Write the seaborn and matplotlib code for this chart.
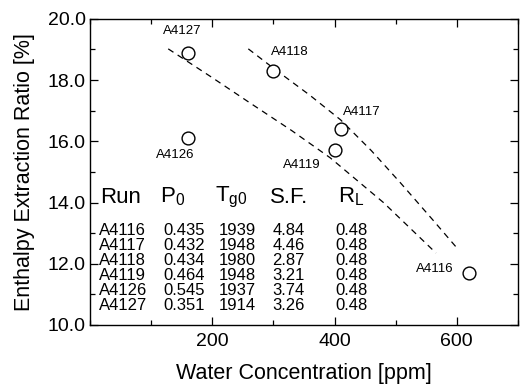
import matplotlib
matplotlib.use("Agg")
import matplotlib.pyplot as plt
from matplotlib.ticker import MultipleLocator, FormatStrFormatter
import seaborn as sns
import pandas as pd

# Measured runs
runs = ["A4116", "A4117", "A4118", "A4119", "A4126", "A4127"]
water_ppm = [620, 410, 300, 400, 160, 160]
extraction = [11.7, 16.4, 18.3, 15.7, 16.1, 18.9]

# Run conditions listed in the table
p0 = ["0.435", "0.432", "0.434", "0.464", "0.545", "0.351"]
tg0 = ["1939", "1948", "1980", "1948", "1937", "1914"]
sf = ["4.84", "4.46", "2.87", "3.21", "3.74", "3.26"]
rl = ["0.48", "0.48", "0.48", "0.48", "0.48", "0.48"]
headers = ["Run", "P$_\\mathrm{0}$", "T$_\\mathrm{g0}$", "S.F.", "R$_\\mathrm{L}$"]

# Trend curves
trend_low_x = [128, 200, 262, 330, 393, 480, 566]
trend_low_y = [19.02, 18.08, 17.25, 16.35, 15.46, 14.0, 12.35]
trend_high_x = [259, 300, 360, 410, 460, 508, 560, 603]
trend_high_y = [19.02, 18.39, 17.5, 16.7, 15.7, 14.64, 13.45, 12.45]

sns.set_theme(style="ticks")
plt.rcParams["font.family"] = ["Liberation Sans", "DejaVu Sans"]
plt.rcParams["mathtext.fontset"] = "custom"
plt.rcParams["mathtext.rm"] = "Liberation Sans"
plt.rcParams["mathtext.it"] = "Liberation Sans:italic"
plt.rcParams["text.color"] = "black"
plt.rcParams["axes.labelcolor"] = "black"
plt.rcParams["xtick.color"] = "black"
plt.rcParams["ytick.color"] = "black"

fig = plt.figure(figsize=(5.2, 3.85), dpi=100)
ax = fig.add_axes([0.173, 0.156, 0.823, 0.795])

df = pd.DataFrame({"x": water_ppm, "y": extraction, "run": runs})
for tx, ty in [(trend_low_x, trend_low_y), (trend_high_x, trend_high_y)]:
    sns.lineplot(x=tx, y=ty, ax=ax, color="black", lw=0.9,
                 linestyle=(0, (5, 4)), sort=False)
sns.scatterplot(data=df, x="x", y="y", ax=ax, s=85, facecolor="white",
                edgecolor="black", linewidth=1.0, zorder=3)

# Point labels (offset in points, alignment)
label_pos = {
    "A4127": ((-4, 11), "center", "bottom"),
    "A4126": ((-9, -8), "center", "top"),
    "A4118": ((-2, 9), "left", "bottom"),
    "A4117": ((2, 8), "left", "bottom"),
    "A4119": ((-10, -6), "right", "top"),
    "A4116": ((-11, 3), "right", "center"),
}
for r, x, y in zip(runs, water_ppm, extraction):
    (dx, dy), ha, va = label_pos[r]
    ax.annotate(r, (x, y), xytext=(dx, dy), textcoords="offset points",
                ha=ha, va=va, fontsize=9.5)

# Table of run conditions
head_x = [16, 115, 205, 295, 405]
col_x = [15, 120, 210, 298, 402]
y_head = 14.18
for hx, h in zip(head_x, headers):
    ax.text(hx, y_head, h, fontsize=16, ha="left", va="center")
rows = list(zip(runs, p0, tg0, sf, rl))
for i, row in enumerate(rows):
    yy = 13.07 - i * 0.49
    for cx, val in zip(col_x, row):
        ax.text(cx, yy, val, fontsize=12, ha="left", va="center")

ax.set_xlim(0, 700)
ax.set_ylim(10, 20)
ax.set_xticks([200, 400, 600])
ax.xaxis.set_minor_locator(MultipleLocator(100))
ax.yaxis.set_major_locator(MultipleLocator(2))
ax.yaxis.set_minor_locator(MultipleLocator(1))
ax.yaxis.set_major_formatter(FormatStrFormatter("%.1f"))
ax.tick_params(which="both", direction="in", top=True, right=True,
               labelsize=14, width=0.9, color="black")
ax.tick_params(which="major", length=6)
ax.tick_params(which="minor", length=3.5)
ax.tick_params(axis="y", which="major", pad=3)
ax.tick_params(axis="x", which="major", pad=6)
for s in ax.spines.values():
    s.set_visible(True)
    s.set_linewidth(1.0)
    s.set_color("black")

ax.set_xlabel("Water Concentration [ppm]", fontsize=15.5, labelpad=9)
ax.set_ylabel("Enthalpy Extraction Ratio [%]", fontsize=15.5, labelpad=9)

fig.savefig("out.png", dpi=100)
